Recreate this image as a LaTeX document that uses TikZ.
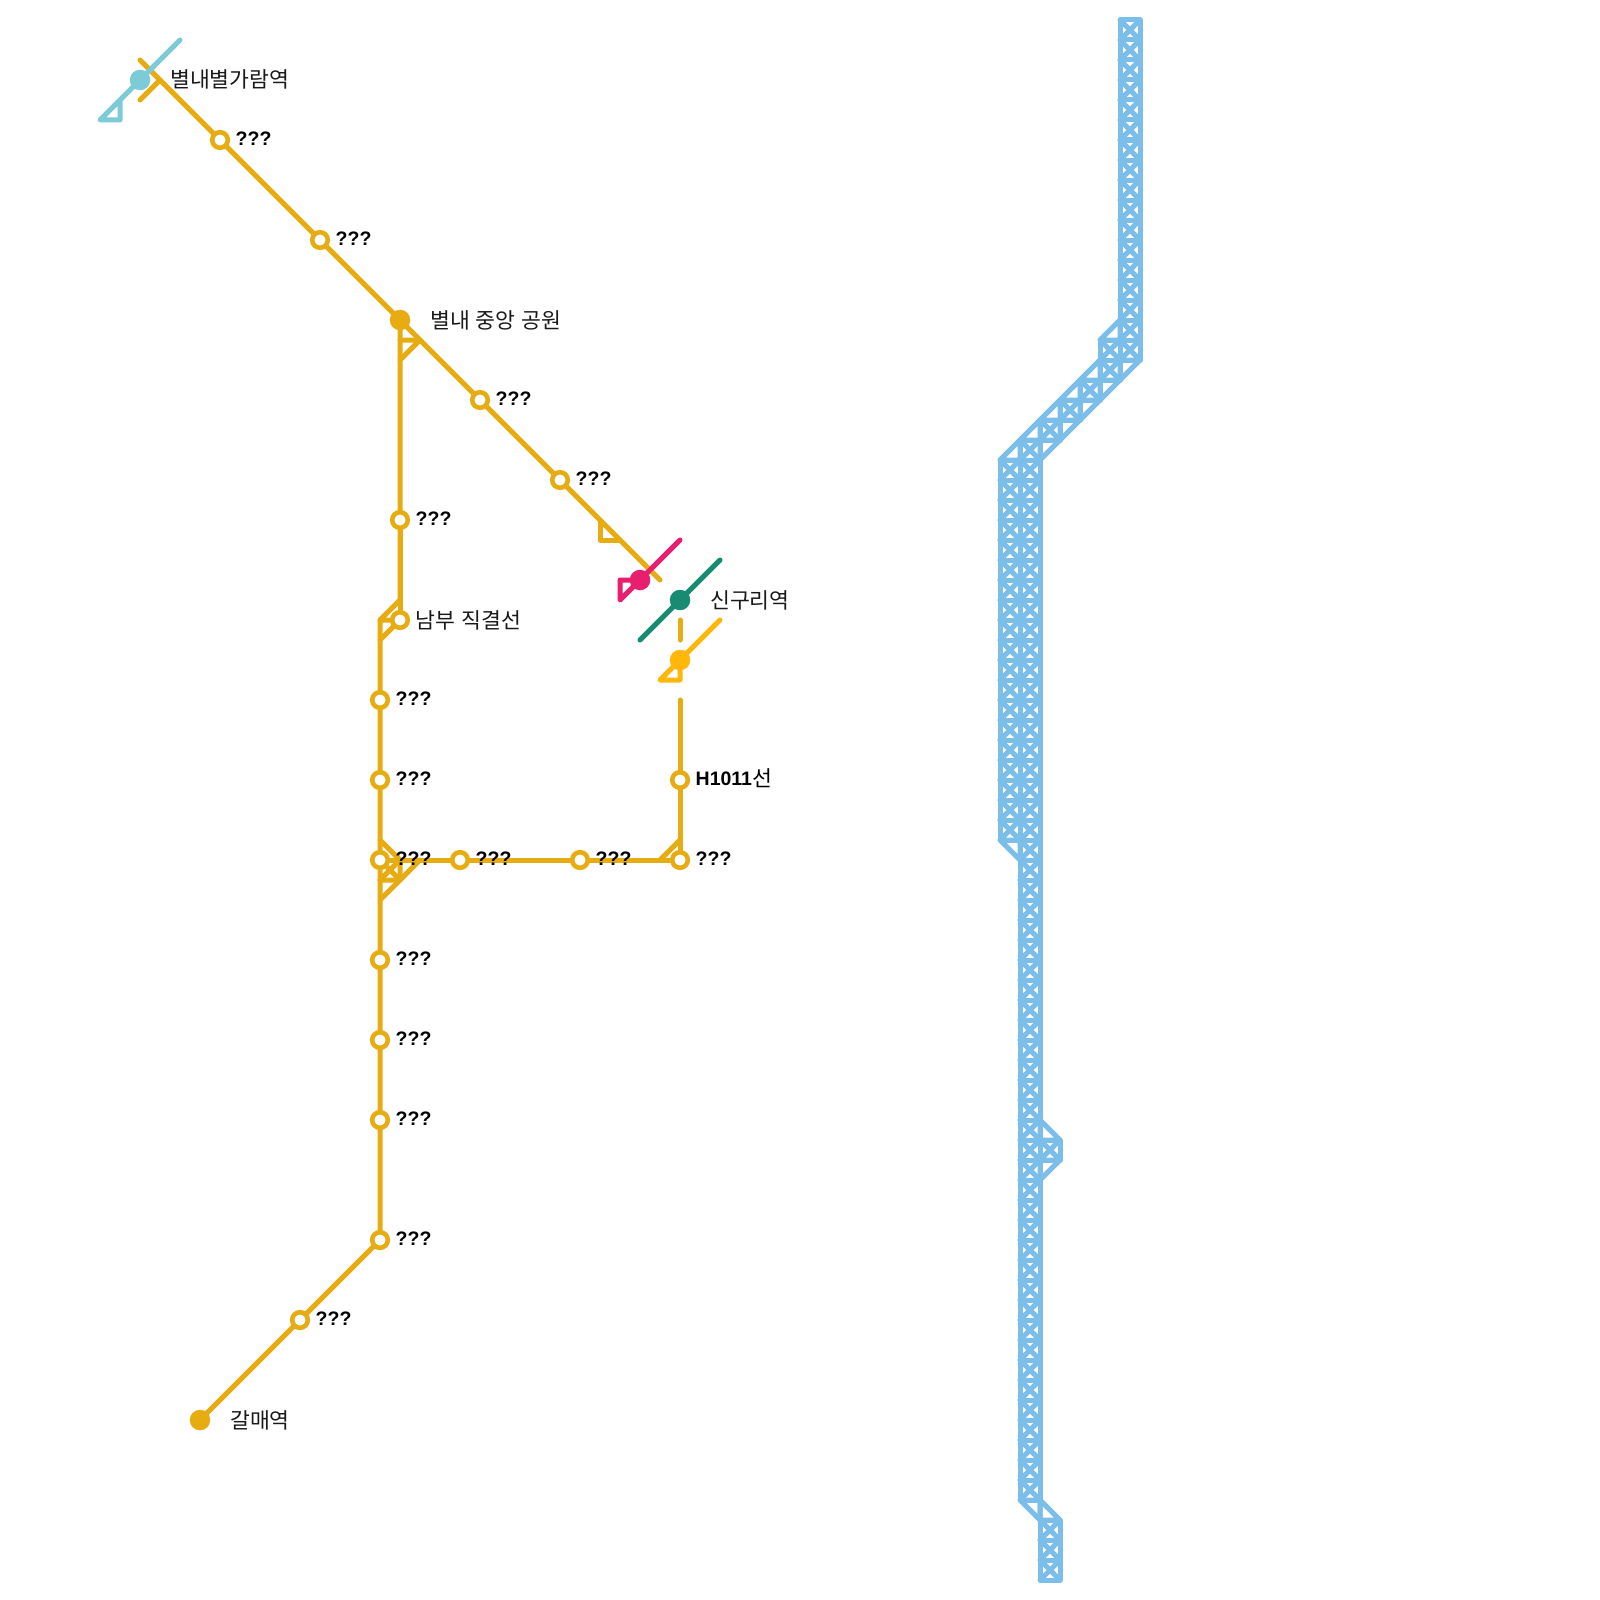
\documentclass[tikz,border=0pt]{standalone}
\usepackage{fontspec}
\setmainfont{Liberation Sans}
\newfontfamily\krfont{Noto Sans CJK KR}
\definecolor{lineOrange}{HTML}{E6AC12}
\definecolor{lineCyan}{HTML}{7CCBD6}
\definecolor{linePink}{HTML}{E91E6E}
\definecolor{lineGreen}{HTML}{178C72}
\definecolor{lineYellow}{HTML}{FFB80A}
\definecolor{truss}{HTML}{7CBEEA}
\pgfdeclarelayer{lines}
\pgfsetlayers{lines,main}
\tikzset{
  opensta/.style={circle,draw=lineOrange,fill=white,line width=4.6pt,minimum size=15.6pt,inner sep=0pt},
  fullsta/.style={circle,fill=#1,minimum size=20.5pt,inner sep=0pt},
  lineway/.style={draw=#1,line width=5pt,line cap=round,line join=round},
  qlabel/.style={anchor=base west,inner sep=0pt,yshift=-1pt,font=\fontsize{19.5}{19.5}\selectfont\bfseries},
  klabel/.style={anchor=base west,inner sep=0pt,yshift=-1pt,font=\fontsize{21.6}{21.6}\krfont,text=black!90},
  trussline/.style={draw=truss,line width=5pt,line cap=round,line join=round}
}
\newcommand{\trusscell}[2]{%
  \draw[trussline] (#1,#2) rectangle ++(20,20);
  \draw[trussline] (#1,#2) -- ++(20,20);
  \draw[trussline] (#1+20,#2) -- ++(-20,20);
}
\begin{document}
\begin{tikzpicture}[x=1pt,y=-1pt]
\useasboundingbox (0,0) rectangle (1600,1600);
% turning points
\coordinate (oStart) at (140,60);
\coordinate (oEnd) at (660,580);
\coordinate (oStubA) at (140,100);
\coordinate (oStubB) at (160,80);
\coordinate (bJ1) at (420,340);
\coordinate (bJ2) at (400,340);
\coordinate (bJ3) at (400,360);
\coordinate (tA) at (600,520);
\coordinate (tB) at (600,540);
\coordinate (tC) at (620,540);
\coordinate (sA) at (400,600);
\coordinate (sB) at (380,620);
\coordinate (sC) at (380,640);
\coordinate (jA) at (380,840);
\coordinate (jB) at (400,860);
\coordinate (jC) at (400,880);
\coordinate (jD) at (380,880);
\coordinate (jE) at (380,900);
\coordinate (jF) at (420,860);
\coordinate (hA) at (680,840);
\coordinate (hB) at (660,860);
\coordinate (dA) at (680,620);
\coordinate (dB) at (680,640);
\coordinate (dC) at (680,700);
\coordinate (cA) at (180,40);
\coordinate (cB) at (100,120);
\coordinate (cC) at (120,120);
\coordinate (cD) at (120,100);
\coordinate (pA) at (680,540);
\coordinate (pB) at (620,600);
\coordinate (pC) at (620,580);
\coordinate (gA) at (720,560);
\coordinate (gB) at (640,640);
\coordinate (yA) at (720,620);
\coordinate (yB) at (660,680);
\coordinate (yC) at (680,680);
% stations
\node[fullsta=lineCyan] (s1) at (140,80) {};
\node[opensta] (s2) at (220,140) {};
\node[opensta] (s3) at (320,240) {};
\node[fullsta=lineOrange] (s4) at (400,320) {};
\node[opensta] (s5) at (480,400) {};
\node[opensta] (s6) at (560,480) {};
\node[fullsta=linePink] (s7) at (640,580) {};
\node[fullsta=lineGreen] (s8) at (680,600) {};
\node[fullsta=lineYellow] (s9) at (680,660) {};
\node[opensta] (s10) at (400,520) {};
\node[opensta] (s11) at (400,620) {};
\node[opensta] (s12) at (380,700) {};
\node[opensta] (s13) at (380,780) {};
\node[opensta] (s14) at (380,860) {};
\node[opensta] (s15) at (460,860) {};
\node[opensta] (s16) at (580,860) {};
\node[opensta] (s17) at (680,860) {};
\node[opensta] (s18) at (680,780) {};
\node[opensta] (s19) at (380,960) {};
\node[opensta] (s20) at (380,1040) {};
\node[opensta] (s21) at (380,1120) {};
\node[opensta] (s22) at (380,1240) {};
\node[opensta] (s23) at (300,1320) {};
\node[fullsta=lineOrange] (s24) at (200,1420) {};
% connectors
\begin{pgfonlayer}{lines}
\draw[lineway=lineOrange] (oStart) -- (s2.center) -- (s3.center) -- (s4.center) -- (s5.center) -- (s6.center) -- (oEnd);
\draw[lineway=lineOrange] (oStubA) -- (oStubB);
\draw[lineway=lineOrange] (s4.center) -- (s10.center) -- (sA) -- (sB) -- (sC) -- (s12.center) -- (s13.center) -- (s14.center) -- (s19.center) -- (s20.center) -- (s21.center) -- (s22.center) -- (s23.center) -- (s24.center);
\draw[lineway=lineOrange] (bJ2) -- (bJ1) -- (bJ3);
\draw[lineway=lineOrange] (tA) -- (tB) -- (tC);
\draw[lineway=lineOrange] (s10.center) -- (s11.center);
\draw[lineway=lineOrange] (sB) -- (s11.center) -- (sC);
\draw[lineway=lineOrange] (jA) -- (jB) -- (jC) -- (jD);
\draw[lineway=lineOrange] (s14.center) -- (jC);
\draw[lineway=lineOrange] (jD) -- (jB);
\draw[lineway=lineOrange] (jE) -- (jF);
\draw[lineway=lineOrange] (s14.center) -- (s15.center) -- (s16.center) -- (s17.center);
\draw[lineway=lineOrange] (hA) -- (hB);
\draw[lineway=lineOrange] (dC) -- (s18.center) -- (s17.center);
\draw[lineway=lineOrange] (dA) -- (dB);
\draw[lineway=lineCyan] (cA) -- (cB) -- (cC) -- (cD);
\draw[lineway=linePink] (pA) -- (pB) -- (pC) -- (s7.center);
\draw[lineway=lineGreen] (gA) -- (gB);
\draw[lineway=lineYellow] (yA) -- (yB) -- (yC) -- (s9.center);
\end{pgfonlayer}
% truss
\foreach \y in {20,40,...,340} {\trusscell{1120}{\y}}
\trusscell{1100}{340}
\trusscell{1100}{360}
\trusscell{1080}{380}
\trusscell{1060}{400}
\trusscell{1040}{420}
\trusscell{1020}{440}
\foreach \y in {460,480,...,820} {\trusscell{1000}{\y}\trusscell{1020}{\y}}
\foreach \y in {840,860,...,1480} {\trusscell{1020}{\y}}
\trusscell{1040}{1140}
\foreach \y in {1520,1540,1560} {\trusscell{1040}{\y}}
\foreach \x/\y in {1100/320,1080/360,1060/380,1040/400,1020/420,1000/440} {
  \draw[trussline] (\x+20,\y) -- (\x,\y+20) -- (\x+20,\y+20) -- cycle;
}
\foreach \x/\y in {1120/360,1100/380,1080/400,1060/420,1040/440,1040/1160} {
  \draw[trussline] (\x,\y) -- (\x+20,\y) -- (\x,\y+20) -- cycle;
}
\draw[trussline] (1000,840) -- (1020,840) -- (1020,860) -- cycle;
\draw[trussline] (1020,1500) -- (1040,1500) -- (1040,1520) -- cycle;
\draw[trussline] (1040,1120) -- (1060,1140) -- (1040,1140) -- cycle;
\draw[trussline] (1040,1500) -- (1060,1520) -- (1040,1520) -- cycle;
% labels
\node[klabel] (l1) at (170,87) {별내별가람역};
\node[qlabel] (l2) at (235.5,144.5) {???};
\node[qlabel] (l3) at (335.5,244.5) {???};
\node[klabel] (l4) at (430,327) {별내\hspace{1pt} 중앙\hspace{1pt} 공원};
\node[qlabel] (l5) at (495.5,404.5) {???};
\node[qlabel] (l6) at (575.5,484.5) {???};
\node[klabel] (l8) at (710,607) {신구리역};
\node[qlabel] (l10) at (415.5,524.5) {???};
\node[klabel] (l11) at (415,627) {남부\hspace{1.5pt} 직결선};
\node[qlabel] (l12) at (395.5,704.5) {???};
\node[qlabel] (l13) at (395.5,784.5) {???};
\node[qlabel] (l14) at (395.5,864.5) {???};
\node[qlabel] (l15) at (475.5,864.5) {???};
\node[qlabel] (l16) at (595.5,864.5) {???};
\node[qlabel] (l17) at (695.5,864.5) {???};
\node[qlabel] (l18) at (695.5,784.5) {H1011{\mdseries\krfont\fontsize{21.6}{21.6}\selectfont\raisebox{-1pt}{선}}};
\node[qlabel] (l19) at (395.5,964.5) {???};
\node[qlabel] (l20) at (395.5,1044.5) {???};
\node[qlabel] (l21) at (395.5,1124.5) {???};
\node[qlabel] (l22) at (395.5,1244.5) {???};
\node[qlabel] (l23) at (315.5,1324.5) {???};
\node[klabel] (l24) at (230,1427) {갈매역};
\end{tikzpicture}
\end{document}
